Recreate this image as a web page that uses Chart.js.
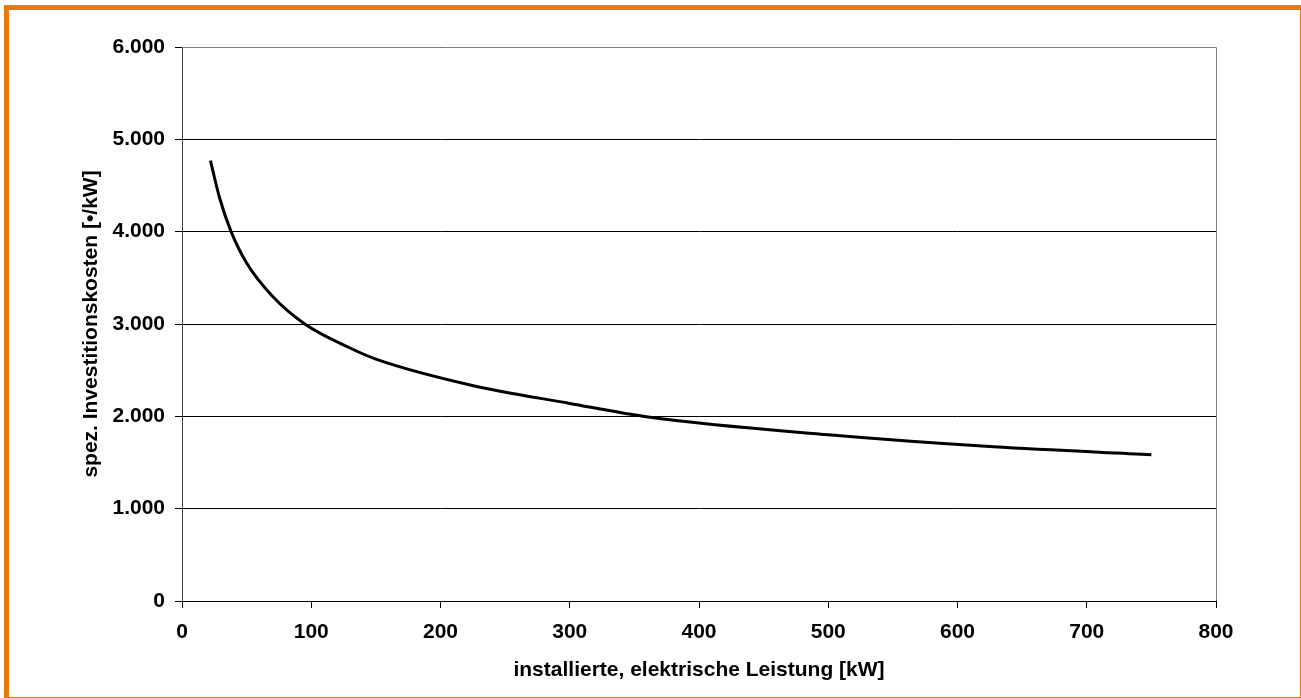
<!DOCTYPE html>
<html>
<head>
<meta charset="utf-8">
<script src="https://cdn.jsdelivr.net/npm/chart.js@4"></script>
<style>
  html, body { margin: 0; padding: 0; background: #fff; }
  #wrap { position: relative; width: 1301px; height: 698px; overflow: hidden; }
  #frame {
    position: absolute; left: 4px; top: 5px; right: 0; bottom: 0;
    border-top: 5px solid #E8780A; border-left: 5px solid #E8780A;
    border-bottom: 1px solid #E8780A; border-right: 1px solid #E8780A;
    pointer-events: none;
  }
  canvas { position: absolute; left: 0; top: 0; }
</style>
</head>
<body>
<div id="wrap">
  <canvas id="kostenChart" width="1301" height="698"></canvas>
  <div id="frame"></div>
</div>
<script>
// === Daten ===
const leistung = [22, 29, 38, 50, 70, 95, 130, 150, 223, 300, 362, 500, 628, 750];
const kosten = [4770, 4370, 4000, 3660, 3300, 3000, 2740, 2620, 2340, 2140, 1990, 1800, 1670, 1585];
const yTicks = [0, 1000, 2000, 3000, 4000, 5000, 6000];
const xTicks = [0, 100, 200, 300, 400, 500, 600, 700, 800];

const punkte = leistung.map((x, i) => ({ x: x, y: kosten[i] }));
const schrift = { family: 'Liberation Sans, Arial, sans-serif', size: 21, weight: 'bold' };

// Rahmen der Zeichenfläche (oben/rechts grau)
const rahmen = {
  id: 'rahmen',
  afterDraw(chart) {
    const { ctx, chartArea: a } = chart;
    ctx.save();
    ctx.strokeStyle = '#808080';
    ctx.lineWidth = 1;
    ctx.beginPath();
    ctx.moveTo(a.left, a.top + 0.5);
    ctx.lineTo(a.right + 0.5, a.top + 0.5);
    ctx.lineTo(a.right + 0.5, a.bottom);
    ctx.stroke();
    ctx.restore();
  }
};

new Chart(document.getElementById('kostenChart').getContext('2d'), {
  type: 'line',
  data: {
    datasets: [{
      data: punkte,
      borderColor: '#000',
      borderWidth: 3,
      pointRadius: 0,
      cubicInterpolationMode: 'monotone',
      fill: false
    }]
  },
  options: {
    responsive: false,
    animation: false,
    layout: { padding: { left: 75, right: 85, top: 47, bottom: 11 } },
    plugins: { legend: { display: false }, tooltip: { enabled: false } },
    scales: {
      x: {
        type: 'linear',
        min: 0, max: 800,
        afterFit: s => { s.height = 86; },
        afterBuildTicks: s => { s.ticks = xTicks.map(v => ({ value: v })); },
        grid: { drawOnChartArea: false, color: '#000', tickLength: 7 },
        border: { color: '#000', width: 1 },
        ticks: { color: '#000', font: schrift, padding: 12, maxRotation: 0 },
        title: {
          display: true,
          text: 'installierte, elektrische Leistung [kW]',
          color: '#000',
          font: schrift
        }
      },
      y: {
        min: 0, max: 6000,
        afterFit: s => { s.width = 107; },
        afterBuildTicks: s => { s.ticks = yTicks.map(v => ({ value: v })); },
        grid: { color: '#000', tickLength: 7 },
        border: { color: '#404040', width: 1 },
        ticks: {
          color: '#000', font: schrift, padding: 10,
          callback: v => v === 0 ? '0' : (v / 1000) + '.000'
        },
        title: {
          display: true,
          text: 'spez. Investitionskosten [•/kW]',
          color: '#000',
          font: schrift
        }
      }
    }
  },
  plugins: [rahmen]
});
</script>
</body>
</html>
